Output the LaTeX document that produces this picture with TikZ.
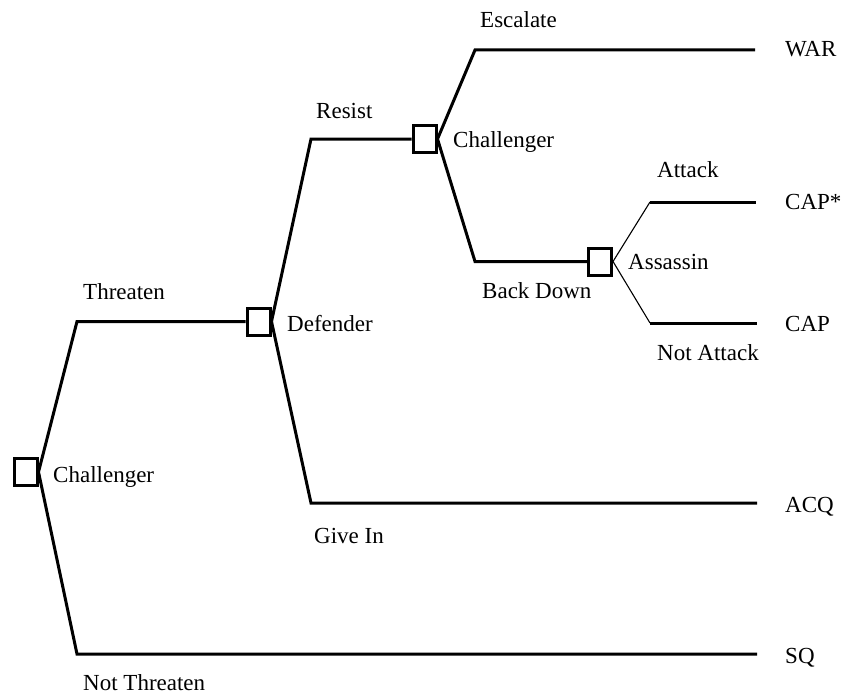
\documentclass[tikz,border=0pt]{standalone}
\usepackage{fontspec}
\setmainfont{Liberation Serif}
\begin{document}
\begin{tikzpicture}[x=1pt,y=-1pt,
  decision/.style={draw, line width=3pt, minimum width=23pt, minimum height=27pt, inner sep=0pt},
  branch/.style={line width=3pt},
  thinbranch/.style={line width=1.1pt},
  lbl/.style={anchor=base west, inner sep=0pt, font=\fontsize{23}{27}\selectfont}]
\useasboundingbox (0,0) rectangle (842,698);

% decision nodes
\node[decision] (c0) at (25.5,472) {};
\node[decision] (d1) at (258.5,321.5) {};
\node[decision] (c2) at (424.5,139) {};
\node[decision] (a3) at (600,261.5) {};

% bends and terminal ends
\coordinate (thr) at (77,321.5);
\coordinate (nthr) at (77,654);
\coordinate (sqend) at (757,654);
\coordinate (res) at (311,139);
\coordinate (give) at (311,503);
\coordinate (acqend) at (757,503);
\coordinate (esc) at (475,50);
\coordinate (warend) at (755,50);
\coordinate (back) at (475,261.5);
\coordinate (att) at (650,202);
\coordinate (attend) at (756,202);
\coordinate (natt) at (650,323);
\coordinate (nattend) at (757,323);

% branches
\draw[branch] (c0.east) -- (thr) -- (d1.west);
\draw[branch] (c0.east) -- (nthr) -- (sqend);
\draw[branch] (d1.east) -- (res) -- (c2.west);
\draw[branch] (d1.east) -- (give) -- (acqend);
\draw[branch] (c2.east) -- (esc) -- (warend);
\draw[branch] (c2.east) -- (back) -- (a3.west);
\draw[thinbranch] (a3.east) -- (att);
\draw[branch] (att) -- (attend);
\draw[thinbranch] (a3.east) -- (natt);
\draw[branch] (natt) -- (nattend);

% player labels
\node[lbl] (l0) at (53,482) {Challenger};
\node[lbl] (l1) at (287,331) {Defender};
\node[lbl] (l2) at (453,147) {Challenger};
\node[lbl] (l3) at (628,269) {Assassin};

% move labels
\node[lbl] (m1) at (83,299) {Threaten};
\node[lbl] (m2) at (83,690) {Not Threaten};
\node[lbl] (m3) at (316,118) {Resist};
\node[lbl] (m4) at (314,543) {Give In};
\node[lbl] (m5) at (480,28) {Escalate};
\node[lbl] (m6) at (482,298) {Back Down};
\node[lbl] (m7) at (657,177) {Attack};
\node[lbl] (m8) at (657,360) {Not Attack};

% outcomes
\node[lbl] (o1) at (785,57) {WAR};
\node[lbl] (o2) at (785,209) {CAP*};
\node[lbl] (o3) at (785,331) {CAP};
\node[lbl] (o4) at (785,512) {ACQ};
\node[lbl] (o5) at (785,663) {SQ};
\end{tikzpicture}
\end{document}
